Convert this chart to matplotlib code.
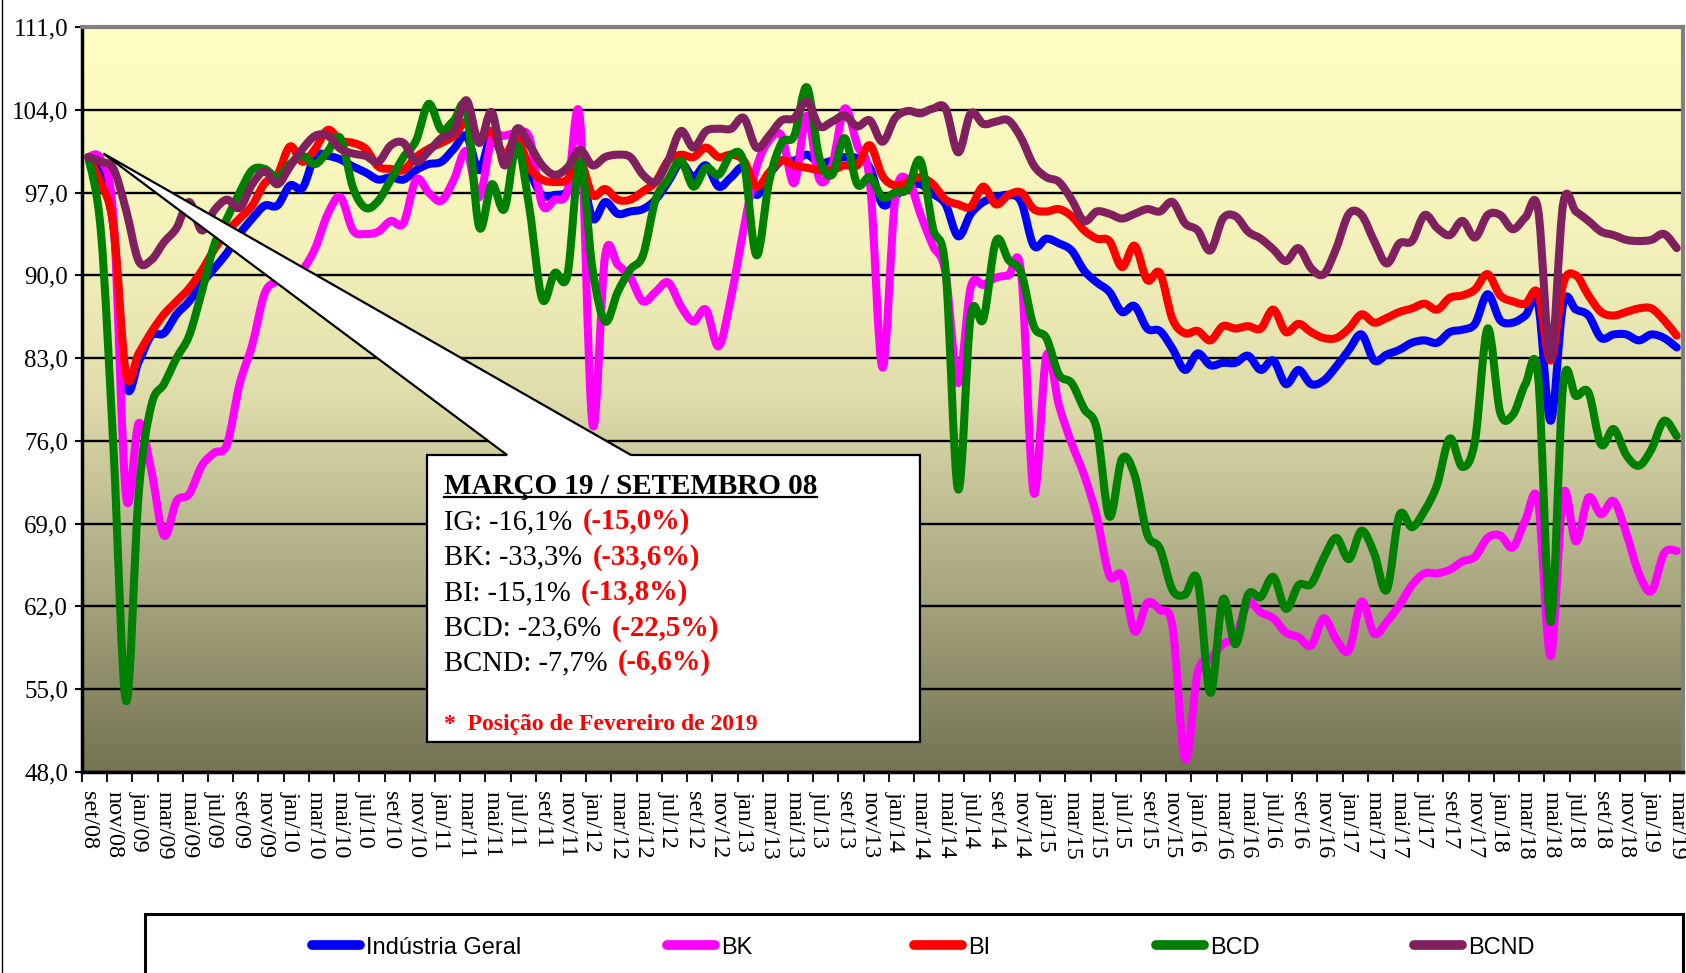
import matplotlib

matplotlib.use("Agg")

import matplotlib.pyplot as plt  # noqa: E402
import numpy as np  # noqa: E402
from matplotlib import transforms  # noqa: E402
from matplotlib.colors import LinearSegmentedColormap  # noqa: E402
from matplotlib.lines import Line2D  # noqa: E402
from matplotlib.patches import PathPatch, Polygon, Rectangle  # noqa: E402
from matplotlib.path import Path  # noqa: E402
from matplotlib.ticker import FuncFormatter  # noqa: E402

W, H, DPI = 1686, 973, 100

# monthly index, set/08 = 100
month_names = ["jan", "fev", "mar", "abr", "mai", "jun",
               "jul", "ago", "set", "out", "nov", "dez"]
months = [f"{month_names[(8 + k) % 12]}/{(2008 + (8 + k) // 12) % 100:02d}"
          for k in range(127)]

ig = [100.0, 98.5, 94.0, 80.8, 82.7, 84.9, 85.1, 86.7, 87.8, 89.3,
      90.6, 91.9, 93.5, 94.8, 95.9, 95.9, 97.6, 97.4, 100.1, 100.1,
      99.8, 99.2, 98.7, 98.1, 98.3, 98.1, 98.9, 99.4, 99.6, 100.7,
      101.8, 98.9, 101.8, 99.9, 100.8, 98.7, 96.8, 96.8, 97.1, 99.1,
      94.8, 96.2, 95.2, 95.4, 95.6, 96.4, 97.9, 99.5, 98.3, 99.3,
      97.5, 98.3, 99.1, 96.8, 98.5, 99.7, 99.7, 100.2, 99.5, 99.7,
      100.0, 99.9, 99.1, 96.0, 96.7, 97.5, 97.7, 96.9, 96.0, 93.3,
      95.2, 96.2, 96.6, 96.8, 96.2, 92.5, 93.1, 92.7, 92.1, 90.4,
      89.4, 88.6, 86.9, 87.4, 85.5, 85.3, 83.8, 82.0, 83.4, 82.4,
      82.6, 82.6, 83.2, 82.0, 82.8, 80.8, 82.0, 80.8, 81.1, 82.3,
      83.7, 85.0, 82.8, 83.3, 83.7, 84.3, 84.5, 84.3, 85.2, 85.4,
      85.9, 88.4, 86.2, 86.0, 86.6, 87.6, 77.7, 87.6, 87.1, 86.6,
      84.7, 85.0, 85.0, 84.5, 85.0, 84.7, 83.9]

bk = [100.0, 99.8, 94.8, 71.3, 77.5, 73.5, 68.0, 70.9, 71.5, 73.9,
      75.0, 75.7, 80.8, 84.1, 88.5, 89.5, 90.0, 90.5, 92.3, 95.2,
      96.6, 93.8, 93.5, 93.7, 94.6, 94.4, 98.1, 97.0, 96.3, 98.1,
      100.5, 96.6, 101.5, 101.8, 102.0, 101.6, 96.0, 96.4, 97.1, 103.3,
      77.4, 91.7, 90.9, 89.8, 87.8, 88.6, 89.4, 87.4, 86.1, 87.1,
      84.0, 88.2, 94.0, 99.1, 101.4, 101.8, 97.8, 103.5, 98.1, 99.3,
      104.1, 101.0, 97.9, 82.2, 96.4, 98.1, 95.2, 92.5, 90.2, 80.9,
      89.0, 89.2, 89.8, 90.0, 90.2, 71.6, 83.2, 79.0, 75.8, 73.1,
      69.6, 64.6, 64.6, 59.9, 62.3, 61.7, 60.3, 49.1, 56.4, 57.6,
      58.8, 59.5, 62.3, 61.5, 61.0, 59.8, 59.4, 58.7, 61.0, 59.2,
      58.3, 62.4, 59.7, 60.7, 62.1, 63.8, 64.8, 64.8, 65.1, 65.8,
      66.2, 67.8, 68.0, 67.0, 69.3, 70.9, 57.8, 71.5, 67.5, 71.2,
      69.8, 70.9, 68.2, 64.8, 63.3, 66.5, 66.7]

bi = [100.0, 97.8, 94.1, 81.6, 83.4, 85.2, 86.7, 87.8, 88.9, 90.4,
      92.2, 93.7, 94.8, 95.9, 97.8, 98.5, 100.9, 99.6, 100.7, 102.3,
      101.4, 101.2, 100.7, 99.2, 99.0, 98.9, 100.0, 100.7, 101.2, 101.8,
      103.0, 101.5, 102.2, 100.2, 101.6, 99.1, 98.1, 97.9, 98.1, 99.7,
      96.8, 97.3, 96.4, 96.4, 97.1, 97.9, 99.7, 100.2, 100.0, 100.8,
      100.0, 100.2, 99.7, 97.5, 98.7, 99.7, 99.3, 99.1, 98.9, 98.9,
      99.3, 99.3, 101.0, 98.4, 97.6, 97.9, 98.3, 97.7, 96.4, 96.0,
      95.8, 97.5, 96.0, 96.8, 97.0, 95.6, 95.4, 95.6, 95.0, 93.8,
      93.1, 92.9, 90.7, 92.5, 89.6, 90.2, 86.3, 85.1, 85.3, 84.5,
      85.7, 85.5, 85.7, 85.5, 87.1, 85.2, 85.9, 85.2, 84.7, 84.7,
      85.5, 86.7, 86.0, 86.4, 86.9, 87.2, 87.6, 87.1, 88.1, 88.3,
      88.8, 90.1, 88.3, 87.8, 87.6, 88.5, 82.8, 89.3, 90.0, 88.3,
      86.9, 86.6, 86.9, 87.2, 87.2, 86.2, 84.9]

bcd = [100.0, 93.7, 75.3, 54.0, 71.6, 79.0, 80.8, 83.0, 84.9, 88.6,
       92.6, 94.8, 97.0, 98.9, 99.0, 98.3, 99.4, 100.1, 99.4, 100.5,
       101.6, 97.4, 95.7, 96.3, 98.1, 100.0, 101.4, 104.5, 102.3, 103.1,
       104.0, 94.1, 97.7, 95.6, 101.0, 95.6, 88.0, 90.2, 90.0, 99.7,
       90.5, 86.1, 88.6, 90.5, 91.7, 96.4, 98.1, 99.7, 97.5, 99.1,
       98.5, 100.2, 99.5, 91.7, 97.9, 101.2, 101.8, 105.9, 99.9, 98.5,
       101.6, 97.7, 98.3, 96.6, 97.0, 97.3, 99.7, 94.0, 90.5, 71.9,
       86.6, 86.3, 92.9, 91.3, 90.2, 85.7, 84.7, 81.6, 80.9, 78.7,
       77.0, 69.6, 74.5, 73.1, 68.1, 66.9, 63.4, 63.0, 64.2, 54.7,
       62.6, 58.8, 63.0, 62.8, 64.5, 61.8, 63.8, 63.9, 66.1, 67.8,
       66.0, 68.4, 66.5, 63.4, 69.7, 68.7, 70.1, 72.3, 76.2, 73.8,
       76.0, 85.5, 78.4, 78.2, 80.8, 81.5, 60.7, 80.8, 79.8, 80.1,
       75.7, 77.0, 74.8, 73.9, 75.3, 77.7, 76.4]

bcnd = [100.0, 99.6, 99.0, 95.5, 91.2, 91.3, 92.8, 94.0, 96.2, 93.8,
        95.5, 96.4, 95.7, 97.7, 98.8, 97.7, 99.2, 100.7, 101.8, 101.8,
        100.7, 100.3, 100.1, 99.6, 101.0, 101.2, 99.6, 100.5, 101.6, 102.2,
        104.8, 101.2, 103.8, 99.3, 102.4, 101.0, 99.3, 98.5, 99.1, 100.6,
        99.3, 100.0, 100.2, 100.0, 98.5, 97.9, 99.7, 102.2, 100.8, 102.2,
        102.4, 102.4, 103.3, 100.8, 101.8, 103.1, 103.3, 104.7, 102.6, 103.0,
        103.5, 102.6, 103.1, 101.3, 103.3, 103.9, 103.7, 104.1, 104.1, 100.4,
        103.7, 102.8, 103.0, 103.1, 101.6, 99.3, 98.3, 97.9, 96.4, 94.6,
        95.4, 95.2, 94.8, 95.2, 95.6, 95.4, 96.2, 94.4, 93.8, 92.1,
        94.8, 95.0, 93.7, 93.1, 92.2, 91.2, 92.3, 90.6, 90.1, 92.3,
        95.2, 95.1, 92.9, 91.0, 92.7, 92.9, 95.1, 94.0, 93.4, 94.6,
        93.2, 95.1, 95.1, 93.9, 94.9, 95.6, 83.0, 96.1, 95.4, 94.6,
        93.7, 93.4, 93.0, 92.9, 93.0, 93.5, 92.3]

series_names = ["Indústria Geral", "BK", "BI", "BCD", "BCND"]
series_colors = ["#0000FF", "#FF00FF", "#FF0000", "#008000", "#80205F"]

box_title = "MARÇO 19 / SETEMBRO 08"
box_rows = [("IG: -16,1%", "(-15,0%)"),
            ("BK: -33,3%", "(-33,6%)"),
            ("BI: -15,1%", "(-13,8%)"),
            ("BCD: -23,6%", "(-22,5%)"),
            ("BCND: -7,7%", "(-6,6%)")]
box_note = "*  Posição de Fevereiro de 2019"

SERIF = ["Liberation Serif", "DejaVu Serif"]
SANS = ["Liberation Sans Narrow", "Liberation Sans", "DejaVu Sans"]


def smooth_path(xs, ys):
    """Excel-style smoothed line: cubic Bezier through every data point."""
    p = np.column_stack([xs, ys]).astype(float)
    n = len(p)
    verts, codes = [p[0]], [Path.MOVETO]
    for i in range(n - 1):
        p0 = p[i - 1] if i > 0 else p[i]
        p3 = p[i + 2] if i + 2 < n else p[i + 1]
        verts += [p[i] + (p[i + 1] - p0) / 6, p[i + 1] - (p3 - p[i]) / 6, p[i + 1]]
        codes += [Path.CURVE4] * 3
    return Path(verts, codes)


fig = plt.figure(figsize=(W / DPI, H / DPI), dpi=DPI, facecolor="white")
ax = fig.add_axes([82 / W, (H - 772) / H, (1683 - 82) / W, (772 - 27) / H])

x = np.arange(len(months))
ax.set_xlim(-0.5, len(months) - 0.5)
ax.set_ylim(48, 111)

# yellow -> olive background
bg = LinearSegmentedColormap.from_list(
    "bg", [(0.0, "#FFFFC3"), (0.30, "#F3F1B9"), (0.50, "#DEDCAA"),
           (0.70, "#B4B28A"), (1.0, "#747453")])
ax.imshow(np.linspace(0, 1, 256).reshape(-1, 1), cmap=bg, aspect="auto",
          extent=[-0.5, len(months) - 0.5, 48, 111], origin="upper", zorder=0)

ax.set_yticks(np.arange(48, 112, 7))
ax.yaxis.set_major_formatter(FuncFormatter(lambda v, _: f"{v:.1f}".replace(".", ",")))
ax.yaxis.grid(True, color="black", lw=1.7)
ax.set_axisbelow(True)
ax.tick_params(axis="y", length=5, width=1.5, pad=5, labelsize=18)
for lab in ax.get_yticklabels():
    lab.set_family(SERIF)

ax.set_xticks(x[::2])
ax.set_xticklabels(months[::2], rotation=-90, family=SERIF, fontsize=17.5)
ax.set_xticks(np.arange(-0.5, len(months), 2), minor=True)
ax.tick_params(axis="x", which="major", length=0, pad=14)
ax.tick_params(axis="x", which="minor", length=7, width=1.3, direction="out")

for side in ("left", "bottom"):
    ax.spines[side].set_linewidth(2.5)
for side in ("top", "right"):
    ax.spines[side].set_color("#808080")
    ax.spines[side].set_linewidth(3)

for k, (vals, c) in enumerate(zip([ig, bk, bi, bcd, bcnd], series_colors)):
    ax.add_patch(PathPatch(smooth_path(x, vals), facecolor="none", edgecolor=c,
                           lw=5.8, capstyle="round", joinstyle="round",
                           zorder=3 + k))

# callout box with pointer to the base month
tip = ((1.2 + 0.5) / len(months), (100.3 - 48) / 63)
bx0, bx1, by0, by1 = 0.2155, 0.5234, 0.0403, 0.4255
callout = Polygon([tip, (0.3429, by1), (bx1, by1), (bx1, by0), (bx0, by0),
                   (bx0, by1), (0.2655, by1)],
                  closed=True, transform=ax.transAxes, facecolor="white",
                  edgecolor="black", lw=1.6, zorder=10, clip_on=False)
ax.add_patch(callout)

tx = 0.2261
title = ax.text(tx, 0.3730, box_title, transform=ax.transAxes, family=SERIF,
                fontsize=21, fontweight="bold", va="baseline", zorder=11)
row_y = [0.3262, 0.2785, 0.2309, 0.1832, 0.1369]
renderer = fig.canvas.get_renderer()
for (black, red), yy in zip(box_rows, row_y):
    t1 = ax.text(tx, yy, black, transform=ax.transAxes, family=SERIF,
                 fontsize=20.6, va="baseline", zorder=11)
    w = t1.get_window_extent(renderer).width * 72 / DPI
    off = transforms.offset_copy(ax.transAxes, fig=fig, x=w + 7.5, y=0, units="points")
    ax.text(tx, yy, red, transform=off, family=SERIF, fontsize=20.6,
            fontweight="bold", color="red", va="baseline", zorder=11)
ax.text(tx, 0.0564, box_note, transform=ax.transAxes, family=SERIF,
        fontsize=17, fontweight="bold", color="red", va="baseline", zorder=11)

tb = title.get_window_extent(renderer)
fig.add_artist(Line2D([tb.x0 / W, tb.x1 / W], [(tb.y0 + 3) / H] * 2,
                      transform=fig.transFigure, color="black", lw=1.6))

# legend strip below the category labels
fig.add_artist(Rectangle((145 / W, -0.01), (1683 - 145) / W, 0.01 + (H - 914) / H,
                         transform=fig.transFigure, facecolor="white",
                         edgecolor="black", lw=2.2))
fig.add_artist(Line2D([1.5 / W] * 2, [0, 1], transform=fig.transFigure,
                      color="black", lw=1.0))
legend_x = [312, 667, 914, 1156, 1414]
legend_y = 1 - 945 / H
for name, c, lx in zip(series_names, series_colors, legend_x):
    fig.add_artist(Line2D([lx / W, (lx + 48) / W], [legend_y] * 2,
                          transform=fig.transFigure, color=c, lw=7,
                          solid_capstyle="round"))
    fig.text((lx + 54) / W, legend_y, name, family=SANS, fontsize=17,
             va="center_baseline", ha="left")

fig.savefig("out.png", dpi=DPI, facecolor="white")
plt.close(fig)
